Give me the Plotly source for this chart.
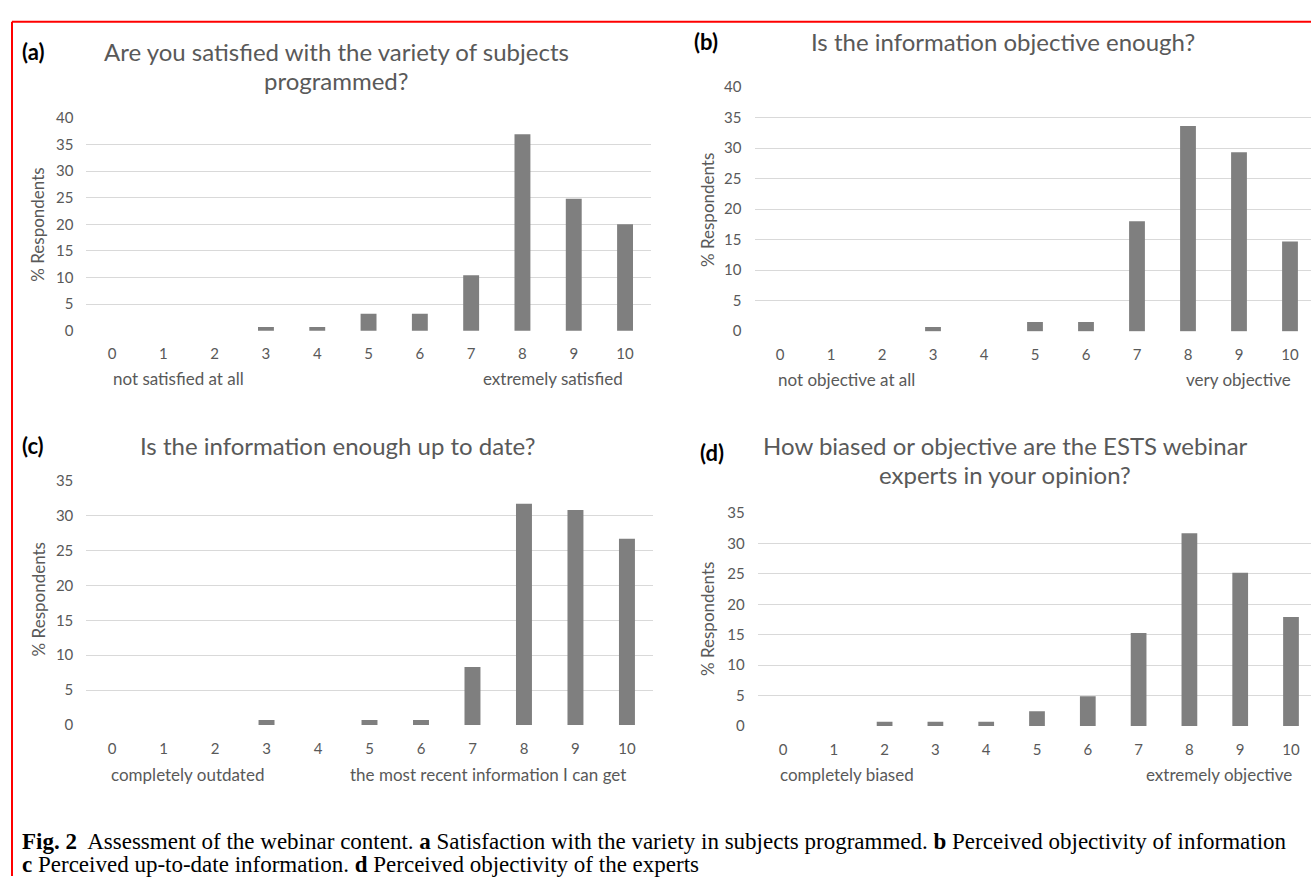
import plotly.graph_objects as go

W, H = 1311, 884

scores = [str(i) for i in range(11)]
satisfied_variety = [0, 0, 0, 0.7, 0.7, 3.2, 3.2, 10.4, 36.9, 24.8, 20.0]
info_objective = [0, 0, 0, 0.7, 0, 1.5, 1.5, 18.0, 33.6, 29.3, 14.7]
info_up_to_date = [0, 0, 0, 0.7, 0, 0.7, 0.7, 8.3, 31.7, 30.8, 26.7]
experts_objective = [0, 0, 0.7, 0.7, 0.7, 2.4, 4.9, 15.3, 31.7, 25.2, 17.9]

panel_letters = ["(a)", "(b)", "(c)", "(d)"]
panel_titles = [
    ["Are you satisfied with the variety of subjects", "programmed?"],
    ["Is the information objective enough?"],
    ["Is the information enough up to date?"],
    ["How biased or objective are the ESTS webinar", "experts in your opinion?"],
]
low_labels = ["not satisfied at all", "not objective at all", "completely outdated", "completely biased"]
high_labels = ["extremely satisfied", "very objective", "the most recent information I can get", "extremely objective"]
y_title = "% Respondents"
caption_1 = "<b>Fig. 2</b>  Assessment of the webinar content. <b>a</b> Satisfaction with the variety in subjects programmed. <b>b</b> Perceived objectivity of information"
caption_2 = "<b>c</b> Perceived up-to-date information. <b>d</b> Perceived objectivity of the experts"

series = [satisfied_variety, info_objective, info_up_to_date, experts_objective]
y_max = [40, 40, 35, 35]

# layout geometry in pixels
geo = [
    dict(x0=86.4, x1=650.7, xr=10.5, y0=328.0, yt=111.0),
    dict(x0=754.5, x1=1311, xr=-0.5 + (1311 - 754.5) / 51.0, y0=328.5, yt=79.5),
    dict(x0=86.3, x1=652.7, xr=10.5, y0=730.0, yt=481.0),
    dict(x0=757.6, x1=1311, xr=-0.5 + (1311 - 757.6) / 50.8, y0=731.0, yt=514.0),
]

TXT = "#595959"
GRID = "#d9d9d9"
BAR = "#7f7f7f"
FONT = "Lato"

fig = go.Figure()
layout = dict(
    width=W, height=H,
    margin=dict(l=0, r=0, t=0, b=0),
    paper_bgcolor="white", plot_bgcolor="white",
    showlegend=False,
    font=dict(family=FONT, color=TXT, size=15),
    bargap=0.69,
)

annotations = []
for i, (vals, g) in enumerate(zip(series, geo)):
    k = "" if i == 0 else str(i + 1)
    fig.add_trace(go.Bar(x=list(range(11)), y=vals, marker=dict(color=BAR, line=dict(width=0)),
                         xaxis="x" + k, yaxis="y" + k, hoverinfo="x+y"))
    ppu = (g["y0"] - g["yt"]) / y_max[i]
    lo, hi = -0.1, y_max[i] + 0.1
    ybot = g["y0"] + 0.1 * ppu
    ytop = g["yt"] - 0.1 * ppu
    layout["xaxis" + k] = dict(
        domain=[g["x0"] / W, min(g["x1"] / W, 1)], range=[-0.5, g["xr"]],
        anchor="y" + k, tickmode="array", tickvals=list(range(11)), ticktext=scores,
        showgrid=False, zeroline=False, showline=False, ticks="",
        tickfont=dict(family=FONT, size=15, color=TXT), ticklabelstandoff=12,
        fixedrange=True,
    )
    layout["yaxis" + k] = dict(
        domain=[1 - ybot / H, 1 - ytop / H], range=[lo, hi],
        anchor="x" + k, tickmode="linear", tick0=0, dtick=5,
        showgrid=True, gridcolor=GRID, gridwidth=1.3, zeroline=False, showline=False, ticks="",
        tickfont=dict(family=FONT, size=15, color=TXT), ticklabelstandoff=12,
        fixedrange=True,
    )

# text placements (pixels)
letter_pos = [(20, 43), (692, 33), (20, 445), (698, 452)]
title_pos = [(336, [43, 73]), (1003, [33]), (337, [445]), (1005, [445, 475])]
ytitle_pos = [(38, 220), (707, 205), (38, 602), (707, 622)]
low_pos = [(111, 377), (776, 378), (109, 780), (778, 780)]
high_pos = [(625, 377), (1293, 378), (628, 780), (1294, 780)]

def px(x, y):
    return x / W, 1 - y / H

for i in range(4):
    x, y = px(*letter_pos[i])
    annotations.append(dict(x=x, y=y, xref="paper", yref="paper", xanchor="left", yanchor="middle",
                            text="<b>" + panel_letters[i] + "</b>", showarrow=False,
                            font=dict(family=FONT, size=22, color="black")))
    cx, ys = title_pos[i]
    for line, yy in zip(panel_titles[i], ys):
        x, y = px(cx, yy)
        annotations.append(dict(x=x, y=y, xref="paper", yref="paper", xanchor="center", yanchor="middle",
                                text=line, showarrow=False, font=dict(family=FONT, size=24, color=TXT)))
    x, y = px(*ytitle_pos[i])
    annotations.append(dict(x=x, y=y, xref="paper", yref="paper", xanchor="center", yanchor="middle",
                            text=y_title, textangle=-90, showarrow=False,
                            font=dict(family=FONT, size=17, color=TXT)))
    x, y = px(*low_pos[i])
    annotations.append(dict(x=x, y=y, xref="paper", yref="paper", xanchor="left", yanchor="middle",
                            text=low_labels[i], showarrow=False, font=dict(family=FONT, size=17, color=TXT)))
    x, y = px(*high_pos[i])
    annotations.append(dict(x=x, y=y, xref="paper", yref="paper", xanchor="right", yanchor="middle",
                            text=high_labels[i], showarrow=False, font=dict(family=FONT, size=17, color=TXT)))

for text, yy in [(caption_1, 849), (caption_2, 872)]:
    x, y = px(20, yy)
    annotations.append(dict(x=x, y=y, xref="paper", yref="paper", xanchor="left", yanchor="middle",
                            text=text, showarrow=False,
                            font=dict(family="Liberation Serif", size=23, color="black")))

layout["annotations"] = annotations
layout["shapes"] = [
    dict(type="line", xref="paper", yref="paper", x0=12 / W, x1=1, y0=1 - 13 / H, y1=1 - 13 / H,
         line=dict(color="red", width=2)),
    dict(type="line", xref="paper", yref="paper", x0=12 / W, x1=12 / W, y0=0, y1=1 - 13 / H,
         line=dict(color="red", width=2)),
]

fig.update_layout(**layout)
fig.write_html(
    "out.html",
    config={"displayModeBar": False},
    post_script="document.body.style.margin='0';document.body.style.overflow='hidden';",
)
